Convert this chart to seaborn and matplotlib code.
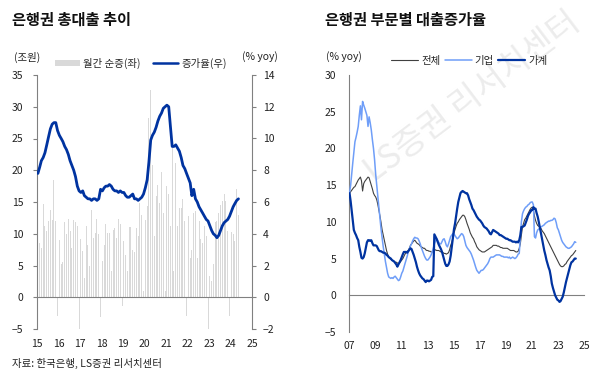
import pandas as pd
import matplotlib.pyplot as plt
from matplotlib.patches import Patch
from matplotlib.lines import Line2D
import seaborn as sns

# --- Data: left chart (monthly, Jan 2015 - May 2024) ---
# monthly net increase of bank loans (trillion won, left axis)
net_increase = [
    9.4, 8.6, 7.8, 14.7, 11.2, 10.4, 12.0, 13.8, 12.2, 18.4, 12.0, -2.9,   # 2015
    9.0, 5.3, 5.6, 11.9, 10.0, 12.3, 10.4, 7.8, 12.2, 11.9, 11.2, -5.0,   # 2016
    9.1, 7.3, 3.1, 11.2, 8.3, 5.0, 13.8, 9.3, 10.1, 12.4, 10.0, -3.1,     # 2017
    5.7, 8.3, 11.6, 10.1, 10.1, 4.1, 10.6, 10.9, 9.3, 12.4, 11.6, -1.3,   # 2018
    8.8, 6.7, 4.1, 11.1, 11.0, 7.5, 7.2, 10.9, 9.6, 14.8, 13.0, 1.0,      # 2019
    12.2, 14.3, 28.2, 32.7, 20.9, 9.6, 15.9, 17.7, 14.9, 19.8, 13.3, 1.0, # 2020
    17.5, 16.2, 11.2, 23.5, 4.1, 21.2, 11.2, 14.1, 14.1, 15.4, 12.0, -2.9,  # 2021
    12.8, 6.2, 7.5, 13.3, 13.6, 6.2, 12.0, 9.1, 8.6, 11.2, 9.6, -5.0,     # 2022
    3.3, 2.5, 5.2, 11.8, 12.0, 13.3, 14.6, 15.1, 16.2, 15.1, 10.4, -2.9,  # 2023
    10.2, 9.9, 8.8, 17.0, 13.0,                                           # 2024
]
# growth rate (% yoy, right axis)
growth_rate = [
    7.8, 8.2, 8.6, 8.8, 9.1, 9.6, 10.1, 10.6, 10.9, 11.0, 11.0, 10.5,
    10.2, 10.0, 9.8, 9.5, 9.3, 9.0, 8.6, 8.3, 8.0, 7.6, 7.0, 6.7,
    6.6, 6.7, 6.4, 6.3, 6.2, 6.2, 6.1, 6.2, 6.2, 6.1, 6.2, 6.8,
    6.7, 6.9, 7.0, 7.0, 7.1, 7.0, 6.8, 6.7, 6.7, 6.6, 6.7, 6.6,
    6.6, 6.4, 6.3, 6.3, 6.4, 6.5, 6.2, 6.2, 6.1, 6.2, 6.3, 6.5,
    6.9, 7.4, 8.5, 9.9, 10.2, 10.4, 10.7, 11.1, 11.4, 11.6, 11.9, 12.0,
    12.1, 12.0, 10.8, 9.5, 9.5, 9.6, 9.4, 9.2, 8.8, 8.3, 8.1, 7.8,
    7.5, 7.2, 6.4, 6.8, 6.2, 6.0, 5.7, 5.5, 5.3, 5.1, 4.9, 4.8,
    4.5, 4.2, 4.0, 3.9, 3.75, 3.9, 4.2, 4.5, 4.7, 4.8, 4.9, 5.1,
    5.4, 5.7, 5.9, 6.1, 6.2,
]

# --- Data: right chart (monthly, Jan 2007 - May 2024, % yoy) ---
total = [
    13.9, 14.1, 14.3, 14.5, 14.7, 14.8, 15.1, 15.4, 15.7, 15.9, 16.1, 15.6,
    14.2, 15.2, 15.5, 15.7, 15.9, 16.1, 16.0, 15.5, 15.0, 14.5, 13.9, 13.6,
    13.4, 13.0, 12.4, 11.6, 10.8, 9.9, 8.9, 8.2, 7.5, 6.8, 6.1, 5.6,
    5.2, 5.0, 4.9, 4.8, 4.7, 4.6, 4.5, 4.5, 4.4, 4.3, 4.4, 4.6,
    4.8, 5.0, 5.3, 5.6, 5.8, 6.0, 6.1, 6.4, 6.8, 7.0, 7.2, 7.4,
    7.5, 7.3, 7.1, 7.0, 6.9, 6.7, 6.6, 6.5, 6.4, 6.4, 6.2, 6.1,
    6.1, 6.0, 6.0, 5.9, 5.9, 6.0, 6.1, 6.2, 6.1, 6.1, 6.1, 6.0,
    5.9, 5.9, 5.8, 5.7, 5.7, 5.6, 5.7, 5.8, 6.2, 6.8, 7.2, 7.8,
    8.5, 9.0, 9.4, 9.8, 10.0, 10.3, 10.5, 10.7, 10.9, 10.9, 10.7, 10.3,
    9.8, 9.4, 9.0, 8.5, 8.2, 7.9, 7.7, 7.3, 7.0, 6.6, 6.4, 6.2,
    6.1, 6.0, 5.9, 5.9, 5.9, 6.0, 6.1, 6.2, 6.3, 6.4, 6.5, 6.6,
    6.8, 6.8, 6.8, 6.8, 6.7, 6.7, 6.6, 6.5, 6.5, 6.4, 6.4, 6.4,
    6.4, 6.4, 6.3, 6.2, 6.1, 6.1, 6.1, 6.1, 6.0, 5.9, 5.9, 6.0,
    6.4, 7.0, 8.2, 9.3, 9.8, 10.3, 10.5, 10.8, 11.1, 11.4, 11.7, 11.9,
    12.0, 11.6, 10.8, 10.2, 9.8, 9.5, 9.4, 9.3, 9.1, 8.8, 8.6, 8.4,
    8.1, 7.8, 7.5, 7.2, 6.9, 6.6, 6.3, 6.0, 5.7, 5.4, 5.1, 4.8,
    4.5, 4.2, 4.0, 3.9, 3.9, 4.0, 4.2, 4.3, 4.6, 4.8, 5.0, 5.2,
    5.4, 5.5, 5.7, 5.9, 6.1,
]
corporate = [
    14.0, 15.0, 16.5, 18.0, 19.5, 20.9, 21.5, 22.2, 23.0, 24.5, 25.8, 23.9,
    26.4, 25.9, 25.5, 25.0, 24.5, 23.0, 24.3, 23.5, 22.5, 21.2, 20.0, 18.5,
    16.5, 15.0, 13.5, 12.0, 10.5, 9.0, 7.8, 6.6, 5.6, 4.6, 3.8, 3.0,
    2.5, 2.4, 2.3, 2.4, 2.3, 2.5, 2.6, 2.4, 2.2, 2.0, 2.1, 2.5,
    3.0, 3.3, 3.8, 4.3, 4.8, 5.3, 5.9, 6.3, 6.7, 7.0, 7.4, 7.7,
    7.9, 7.8, 7.8, 7.7, 7.4, 7.0, 6.5, 6.1, 5.7, 5.3, 5.0, 4.8,
    4.8, 5.0, 5.2, 5.5, 5.9, 6.4, 7.0, 7.4, 7.7, 7.5, 7.2, 7.0,
    7.0, 7.3, 7.6, 7.7, 7.3, 6.8, 6.6, 7.0, 7.5, 8.0, 8.2, 8.4,
    8.4, 8.1, 7.9, 7.7, 7.8, 8.0, 8.2, 8.4, 8.3, 8.0, 7.4, 6.8,
    6.5, 6.3, 6.1, 5.9, 5.6, 5.2, 4.8, 4.3, 3.8, 3.4, 3.2, 3.0,
    3.2, 3.4, 3.4, 3.5, 3.7, 3.9, 4.1, 4.3, 4.6, 5.0, 5.2, 5.2,
    5.2, 5.3, 5.4, 5.5, 5.5, 5.5, 5.5, 5.4, 5.3, 5.3, 5.2, 5.2,
    5.2, 5.2, 5.1, 5.2, 5.0, 5.1, 5.2, 5.1, 5.0, 5.1, 5.3, 5.6,
    5.7, 8.0, 10.0, 11.1, 11.5, 11.8, 12.0, 12.1, 12.3, 12.4, 12.6, 12.7,
    12.7, 12.3, 8.0, 7.8, 8.5, 8.9, 9.0, 9.2, 9.3, 9.4, 9.5, 9.6,
    9.8, 9.9, 10.0, 10.1, 10.1, 10.2, 10.2, 10.3, 10.5, 10.4, 9.9, 9.2,
    8.9, 8.4, 8.0, 7.5, 7.2, 7.0, 6.8, 6.6, 6.5, 6.4, 6.4, 6.5,
    6.6, 6.8, 7.0, 7.3, 7.2,
]
household = [
    13.9, 12.8, 11.6, 10.2, 8.9, 8.5, 8.2, 7.8, 7.5, 6.6, 5.9, 5.1,
    5.0, 5.2, 5.7, 6.5, 7.2, 7.5, 7.5, 7.4, 7.5, 7.1, 6.8, 6.8,
    6.8, 6.7, 6.4, 6.1, 6.0, 6.0, 5.9, 5.8, 5.8, 5.7, 5.5, 5.4,
    5.2, 5.1, 5.0, 4.8, 4.7, 4.6, 4.4, 4.2, 3.9, 4.2, 4.5, 4.8,
    5.2, 5.6, 5.9, 5.9, 5.9, 5.8, 6.0, 6.2, 6.4, 6.3, 5.9, 5.5,
    5.0, 4.5, 3.9, 3.4, 3.0, 2.7, 2.5, 2.3, 2.2, 2.0, 1.8, 2.0,
    2.0, 1.9, 2.0, 2.1, 2.5, 2.6, 8.3, 8.0, 7.7, 7.3, 6.9, 6.6,
    6.3, 5.9, 5.4, 4.9, 4.3, 4.0, 4.0, 4.2, 4.6, 5.4, 6.6, 7.8,
    9.0, 9.8, 10.8, 11.8, 12.7, 13.3, 13.9, 14.1, 14.2, 14.1, 14.0, 13.9,
    13.9, 13.6, 13.1, 12.7, 12.3, 11.8, 11.6, 11.3, 11.0, 10.7, 10.5, 10.3,
    10.2, 10.0, 9.8, 9.5, 9.3, 9.2, 9.1, 8.9, 8.7, 8.4, 8.3, 8.6,
    8.9, 8.8, 8.7, 8.6, 8.5, 8.4, 8.2, 8.2, 8.1, 8.0, 7.9, 7.8,
    7.7, 7.7, 7.6, 7.5, 7.5, 7.4, 7.3, 7.3, 7.3, 7.2, 7.3, 7.2,
    7.5, 8.2, 9.3, 9.3, 9.4, 9.5, 9.9, 10.3, 10.8, 11.1, 11.3, 11.6,
    11.6, 12.0, 11.8, 11.8, 11.2, 10.7, 10.0, 9.2, 8.4, 7.6, 6.8, 6.1,
    5.5, 4.8, 4.3, 3.8, 3.4, 2.6, 1.6, 1.0, 0.5, 0.0, -0.3, -0.6,
    -0.7, -0.9, -0.8, -0.5, -0.2, 0.4, 1.1, 1.8, 2.4, 3.0, 3.6, 4.1,
    4.5, 4.6, 4.8, 5.0, 5.0,
]

left_months = pd.date_range('2015-01-01', periods=len(net_increase), freq='MS') + pd.Timedelta(days=15)
right_months = pd.date_range('2007-01-01', periods=len(total), freq='MS') + pd.Timedelta(days=15)

left_df = pd.DataFrame({'month': left_months, 'net': net_increase, 'rate': growth_rate})
right_df = pd.DataFrame({'month': right_months, '전체': total, '기업': corporate, '가계': household})

# --- Style ---
sns.set_style('white')
plt.rcParams['font.family'] = ['Liberation Sans Narrow', 'Noto Sans CJK KR', 'DejaVu Sans']
plt.rcParams['axes.unicode_minus'] = True

GRAY_BAR = '#d9d9d9'
NAVY = '#0033a0'
LIGHT_BLUE = '#6f9ef8'
DARK = '#404040'
AXIS_GRAY = '#808080'
KR = ['Noto Sans CJK KR', 'DejaVu Sans']

fig = plt.figure(figsize=(6, 3.82), dpi=100)

# --- Left chart ---
ax1 = fig.add_axes([37 / 600, 1 - 329 / 382, 215 / 600, 254 / 382])
ax2 = ax1.twinx()
ax1.bar(left_df['month'], left_df['net'], width=17, color=GRAY_BAR, linewidth=0, zorder=1)
sns.lineplot(data=left_df, x='month', y='rate', ax=ax2, color=NAVY, linewidth=2.0, zorder=3)

ax1.set_xlim(pd.Timestamp('2015-01-01'), pd.Timestamp('2025-01-01'))
ax1.set_ylim(-5, 35)
ax2.set_ylim(-2, 14)
ax1.set_yticks(range(-5, 36, 5))
ax2.set_yticks(range(-2, 15, 2))
left_ticks = pd.to_datetime([f'{y}-01-01' for y in range(2015, 2026)])
ax1.set_xticks(left_ticks)
ax1.set_xticklabels([f'{y % 100:02d}' for y in range(2015, 2026)])
ax1.set_xlabel('')
ax1.set_ylabel('')
ax2.set_xlabel('')
ax2.set_ylabel('')

# --- Right chart ---
ax3 = fig.add_axes([349 / 600, 1 - 332 / 382, 235 / 600, 257 / 382])
sns.lineplot(data=right_df, x='month', y='전체', ax=ax3, color=DARK, linewidth=0.8, zorder=2)
sns.lineplot(data=right_df, x='month', y='기업', ax=ax3, color=LIGHT_BLUE, linewidth=1.1, zorder=3)
sns.lineplot(data=right_df, x='month', y='가계', ax=ax3, color=NAVY, linewidth=1.6, zorder=4)
ax3.set_xlim(pd.Timestamp('2007-01-01'), pd.Timestamp('2025-01-01'))
ax3.set_ylim(-5, 30)
ax3.set_yticks(range(-5, 31, 5))
right_ticks = pd.to_datetime([f'{y}-01-01' for y in range(2007, 2026, 2)])
ax3.set_xticks(right_ticks)
ax3.set_xticklabels([f'{y % 100:02d}' for y in range(2007, 2026, 2)])
ax3.set_xlabel('')
ax3.set_ylabel('')

# --- Axis decoration ---
for ax in (ax1, ax2, ax3):
    for s in ax.spines.values():
        s.set_color(AXIS_GRAY)
        s.set_linewidth(0.8)
    ax.spines['top'].set_visible(False)
    ax.tick_params(colors='#222222', labelsize=7.5, width=0.8, length=3)
    ax.tick_params(axis='both', color=AXIS_GRAY)

ax1.spines['right'].set_visible(False)
ax1.spines['bottom'].set_position(('data', 0))
ax1.tick_params(axis='x', direction='out', length=4, pad=26)
ax1.tick_params(axis='y', direction='out', pad=7)
ax2.spines['left'].set_visible(False)
ax2.spines['bottom'].set_visible(False)
ax2.tick_params(axis='y', direction='out', pad=5)

ax3.spines['right'].set_visible(False)
ax3.spines['bottom'].set_position(('data', 0))
ax3.tick_params(axis='x', direction='out', length=4, pad=29)
ax3.tick_params(axis='y', direction='out', pad=6)

# --- Legends ---
h_left = [Patch(facecolor=GRAY_BAR, edgecolor='none'), Line2D([], [], color=NAVY, linewidth=1.8)]
ax2.legend(h_left, ['월간 순증(좌)', '증가율(우)'], loc='center left',
           bbox_to_anchor=(55 / 600, 1 - 63 / 382), bbox_transform=fig.transFigure,
           ncol=2, frameon=False, handlelength=2.4, handleheight=0.5,
           columnspacing=1.2, handletextpad=0.3, borderaxespad=0, borderpad=0,
           prop={'family': KR, 'size': 7.5})

h_right = [Line2D([], [], color=DARK, linewidth=0.8),
           Line2D([], [], color=LIGHT_BLUE, linewidth=1.1),
           Line2D([], [], color=NAVY, linewidth=1.6)]
ax3.legend(h_right, ['전체', '기업', '가계'], loc='center left',
           bbox_to_anchor=(391 / 600, 1 - 61 / 382), bbox_transform=fig.transFigure,
           ncol=3, frameon=False, handlelength=2.6, columnspacing=0.4, handletextpad=0.3,
           borderaxespad=0, borderpad=0, prop={'family': KR, 'size': 7.5})

# --- Texts ---
fig.text(12 / 600, 1 - 20 / 382, '은행권 총대출 추이', family=KR, fontsize=11,
         fontweight='bold', va='center', ha='left', color='#111111')
fig.text(325 / 600, 1 - 20 / 382, '은행권 부문별 대출증가율', family=KR, fontsize=11,
         fontweight='bold', va='center', ha='left', color='#111111')
fig.text(27 / 600, 1 - 57 / 382, '(조원)', family=['Liberation Sans Narrow'] + KR,
         fontsize=7.5, va='center', ha='center', color='#222222')
fig.text(260 / 600, 1 - 57 / 382, '(% yoy)', family=['Liberation Sans Narrow'] + KR,
         fontsize=7.5, va='center', ha='center', color='#222222')
fig.text(344 / 600, 1 - 57 / 382, '(% yoy)', family=['Liberation Sans Narrow'] + KR,
         fontsize=7.5, va='center', ha='center', color='#222222')
fig.text(12 / 600, 1 - 363 / 382, '자료: 한국은행, LS증권 리서치센터',
         family=['Liberation Sans Narrow'] + KR, fontsize=7.5, va='center', ha='left',
         color='#222222')

# watermark
ax3.text(472 / 600, 1 - 97 / 382, 'LS증권 리서치센터', transform=fig.transFigure,
         family=KR, fontsize=24, rotation=37, color='#ececec', ha='center', va='center',
         zorder=0, clip_on=False)

fig.savefig('out.png', dpi=100)
